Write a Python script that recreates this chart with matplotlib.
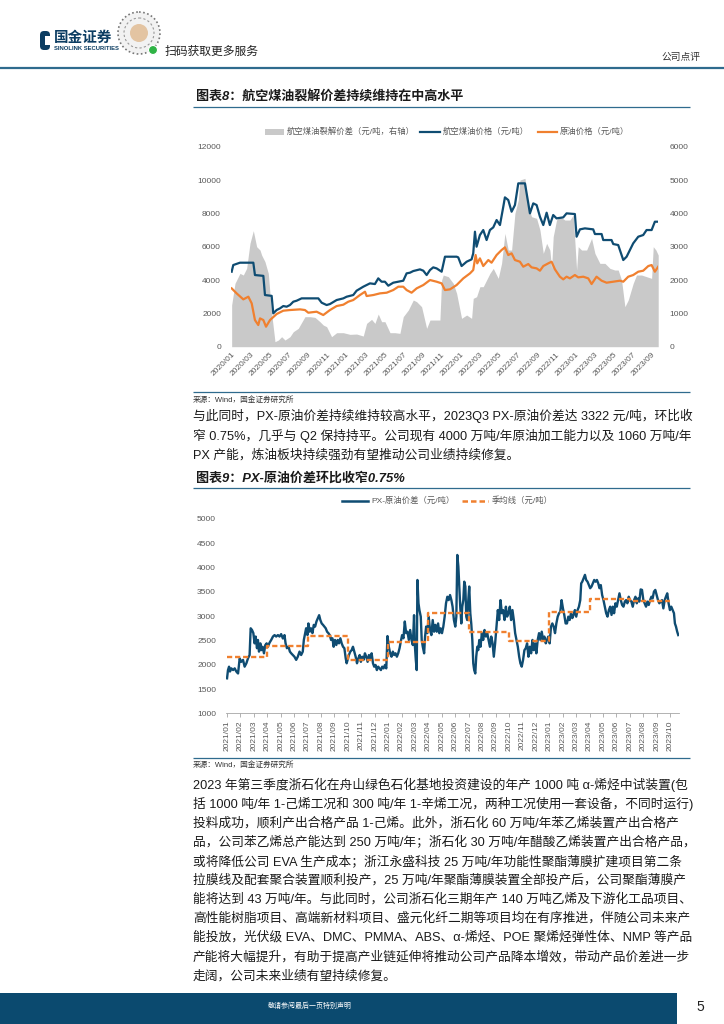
import matplotlib
matplotlib.use("Agg")
import matplotlib.pyplot as plt
from matplotlib.patches import Rectangle, Circle, FancyBboxPatch

plt.rcParams['font.family'] = ['Liberation Sans', 'Noto Sans CJK SC', 'DejaVu Sans']

W, H = 724, 1024
BLUE = '#0f4c72'
ORANGE = '#f0802f'
GRAY_FILL = '#c9c9c9'
TICK_GRAY = '#595959'
RULE = '#2f6b8e'
NAVY = '#0b4a6f'
TXT = '#1a1a1a'

# ---------------- 图表8 数据（月份序号，0 = 2020/01）----------------
jet_month = [0.0, 0.17, 0.87, 2.27, 2.44, 3.32, 3.49, 4.19, 4.36, 4.71, 5.06, 5.41, 5.76, 6.11,
             6.46, 6.81, 7.33, 9.08, 9.43, 9.95, 10.3, 11.0, 11.7, 12.05, 12.74, 13.09, 13.79,
             14.49, 15.01, 15.36, 15.71, 16.06, 16.41, 16.93, 17.98, 18.33, 18.68, 19.03, 19.73,
             20.08, 20.43, 20.78, 21.12, 21.47, 22.0, 22.35, 23.57, 23.74, 24.09, 24.62, 25.14,
             25.31, 25.49, 25.66, 26.01, 26.36, 26.71, 27.06, 27.41, 27.76, 28.11, 28.46, 28.63,
             28.98, 29.33, 29.68, 30.03, 30.73, 31.08, 31.25, 31.6, 31.95, 32.3, 32.65, 33.0,
             33.34, 33.69, 34.04, 34.74, 35.09, 35.96, 36.14, 36.49, 37.01, 37.88, 38.06, 38.76,
             38.93, 39.8, 39.98, 40.5, 41.03, 41.38, 42.07, 42.6, 43.12, 43.47, 44.0, 44.34, 44.69]
jet_price = [4500, 4900, 5040, 5040, 4300, 4250, 3100, 3050, 2000, 2200, 2300, 2440, 2400, 2500,
             2700, 2760, 2900, 2900, 2640, 2500, 2560, 2800, 2900, 3000, 3100, 3360, 3600,
             3800, 3760, 4100, 3900, 3900, 3660, 3840, 3960, 4400, 4440, 4540, 4640,
             4560, 4300, 4600, 4760, 4700, 4500, 5400, 5400, 5360, 4840, 5100, 5240,
             5600, 6900, 6000, 6700, 7000, 6400, 7000, 7160, 7600, 7300, 8400, 8960,
             8800, 8100, 8500, 9800, 9800, 8600, 8000, 8600, 8500, 7800, 7300, 8040,
             7300, 7900, 7700, 7760, 8000, 7960, 6600, 7040, 7100, 7040, 6760, 6760,
             6400, 6400, 6160, 6100, 5200, 5400, 6200, 6600, 6700, 7000, 7000, 7500, 7500]

crude_month = [0.0, 0.52, 1.22, 1.75, 2.1, 2.44, 2.79, 2.97, 3.32, 3.6, 4.02, 4.71, 5.41, 6.11,
               7.16, 7.68, 8.03, 8.9, 9.6, 10.3, 11.0, 11.7, 12.22, 12.74, 13.44, 13.97, 14.14,
               14.84, 15.54, 16.24, 16.93, 17.46, 17.98, 18.33, 18.85, 19.38, 20.08, 20.78, 21.47,
               22.0, 22.35, 22.87, 23.57, 24.27, 24.97, 25.31, 25.56, 25.73, 26.01, 26.36, 26.89,
               27.23, 27.76, 28.28, 28.63, 28.98, 29.33, 29.68, 30.2, 30.55, 31.08, 31.42, 31.95,
               32.3, 32.65, 33.17, 33.52, 33.87, 34.39, 34.74, 35.09, 35.44, 35.96, 36.31, 36.84,
               37.36, 37.71, 38.23, 38.76, 39.28, 39.98, 40.68, 41.03, 41.55, 42.07, 42.6, 43.12,
               43.65, 44.0, 44.34, 44.69]
crude_price = [3500, 3200, 2840, 3000, 2600, 1600, 1300, 1700, 1600, 1200, 1600, 1960, 2160, 2200,
               2240, 2200, 2040, 2100, 1900, 2200, 2440, 2520, 2700, 2800, 3100, 3300, 3040,
               3100, 3200, 3240, 3400, 3600, 3600, 3400, 3240, 3500, 3700, 4000, 3900,
               3800, 3400, 3440, 3700, 4100, 4400, 4600, 5500, 5000, 5300, 4840, 5200,
               5040, 5500, 5800, 5960, 5500, 5600, 5200, 5100, 4800, 4960, 4760, 4700,
               4560, 4840, 5000, 5100, 4640, 4200, 4040, 4200, 4100, 4300, 4160, 4200,
               4100, 3760, 4200, 3960, 3840, 3900, 3960, 3900, 4200, 4300, 4500, 4560,
               4840, 4900, 4500, 4800]

crack_month = [0.0, 0.35, 0.87, 1.22, 1.57, 1.92, 2.27, 2.62, 2.97, 3.14, 3.49, 3.84, 4.19, 4.54,
               4.89, 5.24, 5.59, 6.11, 6.46, 6.98, 7.68, 8.21, 8.73, 9.25, 9.6, 9.95, 10.47,
               11.0, 11.7, 12.4, 13.09, 13.79, 14.14, 14.66, 15.01, 15.36, 15.71, 16.06, 16.59,
               17.11, 17.63, 17.98, 18.51, 19.03, 19.38, 19.9, 20.43, 20.78, 21.3, 21.82, 22.0,
               22.17, 22.7, 23.22, 23.57, 24.09, 24.62, 25.14, 25.31, 25.66, 26.01, 26.36, 26.71,
               27.06, 27.41, 27.93, 28.28, 28.63, 28.98, 29.33, 29.68, 30.03, 30.2, 30.73, 31.08,
               31.42, 31.95, 32.3, 32.65, 33.0, 33.34, 33.52, 33.69, 34.04, 34.39, 34.92, 35.44,
               35.79, 36.14, 36.31, 36.66, 37.19, 37.71, 38.06, 38.58, 39.11, 39.63, 40.15, 40.5,
               40.85, 41.2, 41.55, 42.07, 42.42, 42.95, 43.47, 44.0, 44.17, 44.45, 44.69]
crack_spread = [1250, 1900, 2200, 2150, 2350, 3100, 3480, 3000, 2900, 2750, 2550, 2200, 1000, 150,
                200, 300, 200, 300, 450, 550, 900, 900, 880, 750, 650, 600, 300,
                420, 420, 370, 380, 320, 700, 820, 700, 980, 750, 750, 420,
                420, 400, 900, 1100, 1400, 1350, 1200, 550, 800, 800, 800, 2000,
                2150, 2100, 1900, 1600, 850, 950, 850, 1450, 1500, 1800, 1800, 2000,
                2200, 2350, 2050, 2500, 3400, 2900, 2900, 4000, 4400, 5000, 5050, 4200,
                3900, 3850, 3500, 2800, 3100, 2900, 2350, 3300, 3800, 3900, 3800, 3800,
                3950, 2300, 3000, 2900, 2900, 3250, 2800, 2500, 2500, 2350, 2300, 2300,
                2000, 1200, 1400, 1900, 2150, 2150, 2100, 2050, 3000, 2900, 2750]

c8_ticks = list(range(0, 45, 2))
c8_labels = ['2020/01', '2020/03', '2020/05', '2020/07', '2020/09', '2020/11',
             '2021/01', '2021/03', '2021/05', '2021/07', '2021/09', '2021/11',
             '2022/01', '2022/03', '2022/05', '2022/07', '2022/09', '2022/11',
             '2023/01', '2023/03', '2023/05', '2023/07', '2023/09']

# ---------------- 图表9 数据（月份序号，0 = 2021/01）----------------
px_month = [0.00, 0.07, 0.15, 0.22, 0.32, 0.45, 0.57, 0.69, 0.82, 0.94, 1.06, 1.19, 1.31, 1.44,
            1.56, 1.68, 1.76, 1.86, 1.96, 2.05, 2.13, 2.23, 2.30, 2.38, 2.48, 2.55, 2.65, 2.75,
            2.85, 2.95, 3.04, 3.17, 3.29, 3.42, 3.54, 3.66, 3.79, 3.91, 4.03, 4.16, 4.28, 4.36,
            4.46, 4.58, 4.68, 4.78, 4.90, 5.02, 5.15, 5.27, 5.40, 5.52, 5.64, 5.72, 5.82, 5.89,
            5.99, 6.06, 6.16, 6.26, 6.36, 6.46, 6.56, 6.66, 6.76, 6.86, 6.95, 7.05, 7.15, 7.25,
            7.35, 7.45, 7.55, 7.65, 7.75, 7.85, 7.94, 8.04, 8.14, 8.24, 8.34, 8.44, 8.54, 8.64,
            8.74, 8.84, 8.91, 8.98, 9.08, 9.18, 9.28, 9.38, 9.48, 9.58, 9.68, 9.78, 9.88, 9.97,
            10.07, 10.17, 10.27, 10.37, 10.47, 10.57, 10.67, 10.77, 10.87, 10.96, 11.06, 11.16,
            11.26, 11.36, 11.46, 11.56, 11.66, 11.76, 11.86, 11.95, 12.05, 12.15, 12.25, 12.35,
            12.45, 12.55, 12.65, 12.75, 12.85, 12.94, 13.04, 13.14, 13.24, 13.34, 13.44, 13.54,
            13.64, 13.74, 13.84, 13.93, 13.98, 14.06, 14.13, 14.18, 14.26, 14.33, 14.43, 14.50,
            14.58, 14.68, 14.75, 14.83, 14.92, 15.02, 15.12, 15.22, 15.32, 15.42, 15.52, 15.62,
            15.72, 15.81, 15.91, 16.01, 16.11, 16.21, 16.31, 16.41, 16.51, 16.61, 16.71, 16.80,
            16.90, 17.00, 17.08, 17.15, 17.23, 17.30, 17.37, 17.45, 17.52, 17.60, 17.67, 17.75,
            17.82, 17.89, 17.97, 18.04, 18.12, 18.19, 18.27, 18.34, 18.41, 18.49, 18.56, 18.64,
            18.71, 18.79, 18.88, 18.98, 19.08, 19.18, 19.28, 19.38, 19.48, 19.58, 19.68, 19.78,
            19.87, 19.97, 20.07, 20.17, 20.27, 20.37, 20.47, 20.57, 20.67, 20.77, 20.86, 20.96,
            21.06, 21.16, 21.26, 21.36, 21.46, 21.56, 21.66, 21.76, 21.85, 21.95, 22.05, 22.15,
            22.25, 22.35, 22.45, 22.55, 22.65, 22.75, 22.84, 22.94, 23.04, 23.14, 23.24, 23.34,
            23.44, 23.54, 23.64, 23.74, 23.83, 23.93, 24.03, 24.13, 24.23, 24.33, 24.43, 24.53,
            24.63, 24.73, 24.82, 24.92, 25.02, 25.12, 25.22, 25.32, 25.42, 25.52, 25.62, 25.72,
            25.81, 25.91, 26.01, 26.11, 26.21, 26.31, 26.38, 26.46, 26.56, 26.66, 26.75, 26.85,
            26.95, 27.05, 27.15, 27.25, 27.35, 27.45, 27.55, 27.65, 27.74, 27.84, 27.94, 28.04,
            28.14, 28.24, 28.34, 28.44, 28.54, 28.64, 28.73, 28.83, 28.93, 29.03, 29.13, 29.23,
            29.33, 29.43, 29.53, 29.63, 29.72, 29.82, 29.92, 30.02, 30.12, 30.22, 30.32, 30.42,
            30.52, 30.62, 30.71, 30.81, 30.91, 31.01, 31.11, 31.21, 31.31, 31.41, 31.51, 31.61,
            31.70, 31.80, 31.90, 32.00, 32.10, 32.20, 32.30, 32.40, 32.50, 32.60, 32.69, 32.79,
            32.89, 32.99, 33.09, 33.19, 33.29, 33.36, 33.44, 33.53, 33.61]
px_spread = [1720, 1890, 1960, 1860, 1925, 1890, 1925, 1860, 1820, 2130, 2060, 2100, 1960, 2030,
             2130, 2200, 2750, 2715, 2650, 2440, 2580, 2340, 2510, 2270, 2440, 2300, 2370, 2235,
             2405, 2440, 2370, 2455, 2510, 2580, 2610, 2580, 2610, 2580, 2630, 2540, 2610, 2440,
             2340, 2370, 2270, 2235, 2200, 2165, 2100, 2165, 2270, 2200, 2270, 2510, 2650, 2750,
             2610, 2850, 2680, 2750, 2650, 2820, 2785, 2890, 2955, 3020, 2920, 2850, 2820, 2785,
             2750, 2680, 2650, 2610, 2510, 2545, 2370, 2510, 2405, 2510, 2440, 2545, 2440, 2370,
             2340, 2130, 2030, 2100, 2200, 2270, 2300, 2370, 2270, 2165, 2030, 2130, 2200, 2060,
             2165, 2100, 2235, 2165, 2060, 2200, 2130, 2235, 2030, 1960, 1995, 1890,
             1960, 1925, 1890, 1960, 1925, 1995, 1925, 2590, 2370, 2235, 2165, 2270,
             2200, 2235, 2165, 2235, 2340, 2475, 2610, 2545, 2890, 2650, 2680, 2510,
             2715, 2510, 2405, 3020, 2440, 2100, 1890, 3745, 3265, 3125, 2990, 2510,
             2370, 2235, 2580, 2785, 2650, 2990, 2715, 2610, 2920, 2680, 2820, 2680,
             2850, 2650, 2750, 2650, 2785, 2990, 3265, 3400, 3330, 3435, 3330, 3195,
             2920, 2785, 2990, 4260, 4020, 3610, 3195, 2850, 3195, 3330, 3710, 3610,
             2990, 2920, 3330, 3610, 3060, 2850, 2510, 2030, 1890, 1820, 2165, 2370,
             2300, 2510, 2370, 2650, 2510, 2715, 2580, 2650, 2510, 2370, 2580, 2440,
             2165, 2440, 2785, 3125, 2920, 3330, 3060, 3125, 2920, 3195, 2990, 3060,
             3195, 2920, 3125, 2920, 2650, 2510, 2370, 2165, 2030, 1960, 2100, 2300,
             2340, 2440, 2165, 2370, 2235, 2510, 2300, 2440, 2235, 2510, 2650, 2510,
             2680, 2510, 2580, 2440, 2510, 2580, 2440, 2785, 2850, 2785, 2650, 2850,
             2990, 3060, 3090, 3330, 3160, 3025, 2850, 2850, 2990, 2920, 3060, 2960,
             3025, 3125, 2990, 3125, 3195, 3330, 3675, 3710, 3780, 3850, 3745, 3710,
             3640, 3575, 3610, 3675, 3745, 3710, 3745, 3675, 3575, 3640, 3435, 3330,
             3195, 3060, 2990, 3125, 3195, 3025, 3195, 3060, 3265, 3195, 3330, 3470,
             3330, 3230, 3195, 3300, 3330, 3265, 3400, 3330, 3300, 3195, 3330, 3400,
             3265, 3365, 3300, 3550, 3540, 3330, 3265, 3195, 3300, 3230, 3330, 3400,
             3365, 3505, 3540, 3435, 3330, 3265, 3300, 3330, 3160, 3330, 3400, 3470,
             3265, 3125, 3195, 3125, 3060, 2850, 2785, 2680, 2610]

quarter_start = [0, 3, 6, 9, 12, 15, 18, 21, 24, 27, 30, 33]
quarter_avg = [2150, 2380, 2600, 2090, 2470, 3060, 2670, 2480, 3080, 3347, 3322, 3322]

c9_ticks = list(range(0, 34))
c9_labels = ['2021/01', '2021/02', '2021/03', '2021/04', '2021/05', '2021/06', '2021/07',
             '2021/08', '2021/09', '2021/10', '2021/11', '2021/12', '2022/01', '2022/02',
             '2022/03', '2022/04', '2022/05', '2022/06', '2022/07', '2022/08', '2022/09',
             '2022/10', '2022/11', '2022/12', '2023/01', '2023/02', '2023/03', '2023/04',
             '2023/05', '2023/06', '2023/07', '2023/08', '2023/09', '2023/10']

# ---------------- 正文 ----------------
para1 = ['与此同时，PX-原油价差持续维持较高水平，2023Q3 PX-原油价差达 3322 元/吨，环比收',
         '窄 0.75%，几乎与 Q2 保持持平。公司现有 4000 万吨/年原油加工能力以及 1060 万吨/年',
         'PX 产能，炼油板块持续强劲有望推动公司业绩持续修复。']
para2 = ['2023 年第三季度浙石化在舟山绿色石化基地投资建设的年产 1000 吨 α-烯烃中试装置(包',
         '括 1000 吨/年 1-己烯工况和 300 吨/年 1-辛烯工况，两种工况使用一套设备，不同时运行)',
         '投料成功，顺利产出合格产品 1-己烯。此外，浙石化 60 万吨/年苯乙烯装置产出合格产',
         '品，公司苯乙烯总产能达到 250 万吨/年；浙石化 30 万吨/年醋酸乙烯装置产出合格产品，',
         '或将降低公司 EVA 生产成本；浙江永盛科技 25 万吨/年功能性聚酯薄膜扩建项目第二条',
         '拉膜线及配套聚合装置顺利投产，25 万吨/年聚酯薄膜装置全部投产后，公司聚酯薄膜产',
         '能将达到 43 万吨/年。与此同时，公司浙石化三期年产 140 万吨乙烯及下游化工品项目、',
         '高性能树脂项目、高端新材料项目、盛元化纤二期等项目均在有序推进，伴随公司未来产',
         '能投放，光伏级 EVA、DMC、PMMA、ABS、α-烯烃、POE 聚烯烃弹性体、NMP 等产品',
         '产能将大幅提升，有助于提高产业链延伸将推动公司产品降本增效，带动产品价差进一步',
         '走阔，公司未来业绩有望持续修复。']


fig = plt.figure(figsize=(7.24, 10.24), dpi=100)

# 背景层：用像素坐标画页面元素
bg = fig.add_axes([0, 0, 1, 1])
bg.set_xlim(0, W)
bg.set_ylim(H, 0)
bg.axis('off')


def text(x, y, s, size, **kw):
    kw.setdefault('color', TXT)
    kw.setdefault('va', 'center')
    bg.text(x, y, s, fontsize=size, **kw)


def rule(y, x0=193, x1=690, lw=0.9, color=RULE):
    bg.plot([x0, x1], [y, y], color=color, lw=lw, solid_capstyle='butt')


# 页眉
bg.add_patch(FancyBboxPatch((40, 31), 10, 19, boxstyle='round,pad=0,rounding_size=4',
                            fc='#0c3d62', ec='none'))
bg.add_patch(Rectangle((45, 36), 5, 9, fc='white', ec='none'))
text(54, 38, '国金证券', 10.5, weight='bold', color='#0c3d62')
text(54, 48, 'SINOLINK SECURITIES', 4.2, weight='bold', color='#0c3d62')
bg.add_patch(Circle((139, 33), 21, fc='#f2f2f2', ec='#777777', lw=1.2, ls=(0, (1, 1.5))))
bg.add_patch(Circle((139, 33), 15, fc='none', ec='#999999', lw=0.8, ls=(0, (2, 2))))
bg.add_patch(Circle((139, 33), 9, fc='#e3c4a2', ec='none'))
bg.add_patch(Circle((153, 50), 4.5, fc='#2fb345', ec='white', lw=0.8))
text(165, 52, '扫码获取更多服务', 8.5, color='#222222')
text(700, 57, '公司点评', 7, ha='right', color='#333333')
rule(68, 0, W, lw=1.6)

# 图表8 标题与图例
text(196, 97, '图表8：航空煤油裂解价差持续维持在中高水平', 9.4, weight='bold', style='italic')
rule(107)
bg.add_patch(Rectangle((265, 128.5), 19, 6, fc=GRAY_FILL, ec='none'))
text(287, 131.5, '航空煤油裂解价差（元/吨，右轴）', 6, color=TICK_GRAY)
bg.plot([420, 440], [131.5, 131.5], color=BLUE, lw=1.6)
text(443, 131.5, '航空煤油价格（元/吨）', 6, color=TICK_GRAY)
bg.plot([538, 557], [131.5, 131.5], color=ORANGE, lw=1.6)
text(560, 131.5, '原油价格（元/吨）', 6, color=TICK_GRAY)

# 图表8 主体：灰色面积（右轴）在下，价格线（左轴）在上
ax_g = fig.add_axes([230.7 / W, 1 - 346.7 / H, (658.3 - 230.7) / W, 200 / H])
ax_g.fill_between(crack_month, crack_spread, 0, color=GRAY_FILL, lw=0)
ax_g.set_ylim(0, 6000)
ax_g.set_yticks(range(0, 6001, 1000))
ax_g.set_xlim(-0.1, 44.7)
ax_g.set_xticks(c8_ticks)
ax_g.set_xticklabels(c8_labels, rotation=45, ha='right', rotation_mode='anchor')
ax_g.tick_params(axis='x', length=0, pad=3, labelsize=6, labelcolor=TICK_GRAY)
for s in ax_g.spines.values():
    s.set_visible(False)
ax_g.patch.set_visible(False)

ax_l = ax_g.twinx()
ax_l.plot(jet_month, jet_price, color=BLUE, lw=1.6, solid_joinstyle='round')
ax_l.plot(crude_month, crude_price, color=ORANGE, lw=1.6, solid_joinstyle='round')
ax_l.set_ylim(0, 12000)
ax_l.set_yticks(range(0, 12001, 2000))
ax_l.yaxis.tick_left()
ax_l.tick_params(axis='y', length=0, pad=7, labelsize=6, labelcolor=TICK_GRAY)
for s in ax_l.spines.values():
    s.set_visible(False)

# twinx 会把原轴刻度挪到左边，这里挪回右边
ax_g.yaxis.tick_right()
ax_g.tick_params(axis='y', length=0, pad=8, labelsize=6, labelcolor=TICK_GRAY)

rule(392)
text(193, 400, '来源：Wind，国金证券研究所', 5.5, color='#333333')

# 正文 1
for i, line in enumerate(para1):
    text(193, 416 + 19.5 * i, line, 9.15)

# 图表9 标题与图例
text(196, 478, '图表9：PX-原油价差环比收窄0.75%', 9.4, weight='bold', style='italic')
rule(488)
bg.plot([342, 368], [500.5, 500.5], color=BLUE, lw=1.8)
text(371, 500.5, 'PX-原油价差（元/吨）', 6, color=TICK_GRAY)
bg.plot([462, 488], [500.5, 500.5], color=ORANGE, lw=1.8, ls=(0, (2.2, 1.2)))
text(492, 500.5, '季均线（元/吨）', 6, color=TICK_GRAY)

# 图表9 主体
ax2 = fig.add_axes([225.7 / W, 1 - 713.3 / H, (678.8 - 225.7) / W, 194.3 / H])
ax2.plot(px_month, px_spread, color=BLUE, lw=1.7, solid_joinstyle='round')
ax2.step(quarter_start, quarter_avg, where='post', color=ORANGE, lw=1.7, ls=(0, (2.2, 1.2)))
ax2.set_ylim(1000, 5000)
ax2.set_yticks(range(1000, 5001, 500))
ax2.set_xlim(-0.1, 33.65)
ax2.set_xticks(c9_ticks)
ax2.set_xticklabels(c9_labels, rotation=90, va='top', ha='center')
ax2.tick_params(axis='x', length=3, width=0.6, color='#a6a6a6', pad=2, labelsize=6,
                labelcolor=TICK_GRAY)
ax2.tick_params(axis='y', length=0, pad=7, labelsize=6, labelcolor=TICK_GRAY)
for k in ['top', 'right', 'left']:
    ax2.spines[k].set_visible(False)
ax2.spines['bottom'].set_color('#a6a6a6')
ax2.spines['bottom'].set_linewidth(0.6)
ax2.patch.set_visible(False)

rule(758)
text(193, 765, '来源：Wind，国金证券研究所', 5.5, color='#333333')

# 正文 2
for i, line in enumerate(para2):
    text(193, 785 + 19.1 * i, line, 9.15)

# 页脚
bg.add_patch(Rectangle((0, 993), 677, 31, fc=NAVY, ec='none'))
text(268, 1006, '敬请参阅最后一页特别声明', 5, color='white')
text(700, 1007, '5', 10, color='#222222', ha='center')

fig.savefig('out.png', dpi=100)
